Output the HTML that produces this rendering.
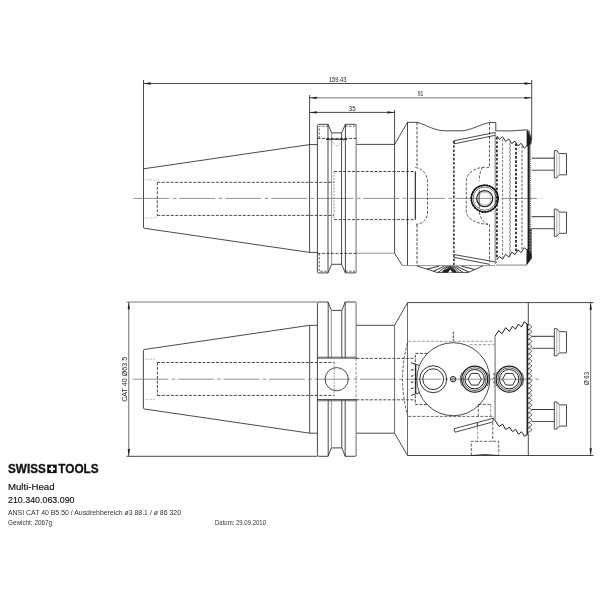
<!DOCTYPE html>
<html><head><meta charset="utf-8"><title>Multi-Head 210.340.063.090</title>
<style>
html,body{margin:0;padding:0;background:#fff;}
body{width:600px;height:600px;overflow:hidden;position:relative;font-family:"Liberation Sans",sans-serif;}
svg{position:absolute;left:0;top:0;display:block;}
svg text{font-family:"Liberation Sans",sans-serif;}
svg{opacity:0.999;will-change:transform;}
.t{position:absolute;left:8px;white-space:nowrap;color:#111;line-height:1;transform-origin:0 0;}
</style></head><body>
<svg width="600" height="600" viewBox="0 0 600 600">
<rect width="600" height="600" fill="#fff"/>
<line x1="143.5" y1="83.5" x2="531.7" y2="83.5" stroke="#1c1c1c" stroke-width="0.8"/>
<polygon points="143.5,83.5 150.7,82.35 150.7,84.65" fill="#1c1c1c"/>
<polygon points="531.7,83.5 524.5,84.65 524.5,82.35" fill="#1c1c1c"/>
<text x="337.7" y="82" font-size="6.7" text-anchor="middle" fill="#1c1c1c" font-weight="normal" textLength="17.6" lengthAdjust="spacingAndGlyphs">159.43</text>
<line x1="309.6" y1="97.8" x2="531.7" y2="97.8" stroke="#555" stroke-width="0.8"/>
<polygon points="309.6,97.8 316.8,96.64999999999999 316.8,98.95" fill="#1c1c1c"/>
<polygon points="531.7,97.8 524.5,98.95 524.5,96.64999999999999" fill="#1c1c1c"/>
<text x="420.5" y="95.9" font-size="6.7" text-anchor="middle" fill="#1c1c1c" font-weight="normal" textLength="5.6" lengthAdjust="spacingAndGlyphs">91</text>
<line x1="309.6" y1="112.4" x2="394.6" y2="112.4" stroke="#1c1c1c" stroke-width="0.8"/>
<polygon points="309.6,112.4 316.8,111.25 316.8,113.55000000000001" fill="#1c1c1c"/>
<polygon points="394.6,112.4 387.40000000000003,113.55000000000001 387.40000000000003,111.25" fill="#1c1c1c"/>
<text x="352.2" y="111" font-size="6.7" text-anchor="middle" fill="#1c1c1c" font-weight="normal" textLength="6.7" lengthAdjust="spacingAndGlyphs">35</text>
<line x1="143.5" y1="80" x2="143.5" y2="227.2" stroke="#1c1c1c" stroke-width="0.8"/>
<line x1="531.7" y1="80" x2="531.7" y2="140" stroke="#1c1c1c" stroke-width="0.8"/>
<line x1="309.6" y1="95" x2="309.6" y2="252.4" stroke="#1c1c1c" stroke-width="0.8"/>
<line x1="394.6" y1="110" x2="394.6" y2="253.2" stroke="#1c1c1c" stroke-width="0.8"/>
<path d="M143.5,168.8 L309.6,144.6 L317.4,144.6" stroke="#1c1c1c" stroke-width="0.8" fill="none"/>
<path d="M143.5,227.2 Q143.5,228.2 144.6,228.3 L309.6,252.4 L317.4,252.4" stroke="#1c1c1c" stroke-width="0.8" fill="none"/>
<line x1="133.3" y1="198.4" x2="541.5" y2="198.4" stroke="#7a7a7a" stroke-width="0.8" stroke-dasharray="36 3.4 3.8 2.8"/>
<path d="M157.3,182.3 L334,182.3 M157.3,215.4 L334,215.4 M157.3,182.3 L157.3,215.4" stroke="#1c1c1c" stroke-width="0.8" fill="none" stroke-dasharray="3 1.5"/>
<path d="M145,179.8 L154.5,179.8 Q156.8,179.8 156.8,182 M145,218 L154.5,218 Q156.8,218 156.8,215.6" stroke="#7a7a7a" stroke-width="0.6" fill="none" stroke-dasharray="1.5 1.2"/>
<path d="M356.4,125.8 Q356.4,124.3 354.9,124.3 L345.4,124.3 L341.6,132.9 L331.6,132.9 L328,124.3 L318.9,124.3 Q317.4,124.3 317.4,125.8 L317.4,271.4 Q317.4,272.9 318.9,272.9 L328,272.9 L331.6,264.29999999999995 L341.6,264.29999999999995 L345.4,272.9 L354.9,272.9 Q356.4,272.9 356.4,271.4" stroke="#1c1c1c" stroke-width="0.8" fill="none"/>
<line x1="356.09999999999997" y1="125.8" x2="356.09999999999997" y2="271.4" stroke="#8c8c8c" stroke-width="1.3"/>
<line x1="328" y1="124.3" x2="328" y2="272.9" stroke="#1c1c1c" stroke-width="0.8"/>
<line x1="331.6" y1="133" x2="331.6" y2="264.4" stroke="#7a7a7a" stroke-width="0.8"/>
<line x1="341.6" y1="133" x2="341.6" y2="264.4" stroke="#1c1c1c" stroke-width="0.8"/>
<line x1="345.4" y1="124.3" x2="345.4" y2="272.9" stroke="#1c1c1c" stroke-width="0.8"/>
<line x1="317.4" y1="138.4" x2="356.4" y2="138.4" stroke="#1c1c1c" stroke-width="0.8" stroke-dasharray="3 1.5"/>
<line x1="317.4" y1="253.4" x2="356.4" y2="253.4" stroke="#1c1c1c" stroke-width="0.8" stroke-dasharray="3 1.5"/>
<path d="M319.2,138.4 L319.2,126.2 L328,126.2 M345.4,126.2 L355,126.2" stroke="#1c1c1c" stroke-width="0.7" fill="none" stroke-dasharray="2.4 1.4"/>
<path d="M319.2,253.4 L319.2,271.2 L328,271.2 M345.4,271.2 L355,271.2" stroke="#1c1c1c" stroke-width="0.7" fill="none" stroke-dasharray="2.4 1.4"/>
<line x1="326" y1="139.3" x2="347" y2="139.3" stroke="#1c1c1c" stroke-width="1.0"/>
<path d="M329,139.5 L337,146 L345,139.5" stroke="#7a7a7a" stroke-width="0.6" fill="none" stroke-dasharray="2 1"/>
<line x1="356.4" y1="144.4" x2="394.6" y2="144.4" stroke="#1c1c1c" stroke-width="0.8"/>
<line x1="356.4" y1="253.2" x2="394.6" y2="253.2" stroke="#7a7a7a" stroke-width="0.8"/>
<path d="M334,171.5 L415.3,171.5 M334,219.6 L415.3,219.6" stroke="#1c1c1c" stroke-width="0.8" fill="none" stroke-dasharray="3 1.5"/>
<line x1="334" y1="171.5" x2="334" y2="219.6" stroke="#7a7a7a" stroke-width="0.8" stroke-dasharray="2 1.2"/>
<path d="M394.6,144.4 L407.5,122.3 L417,122.3 C427,125 434,130.8 445,130.8 L461,130.8 C470,130.8 480,124.5 489.5,122.5 L495.8,122.5 L495.8,131" stroke="#1c1c1c" stroke-width="0.8" fill="none"/>
<line x1="407.5" y1="122.3" x2="407.5" y2="265.6" stroke="#1c1c1c" stroke-width="0.8"/>
<line x1="417" y1="122.3" x2="417" y2="167" stroke="#1c1c1c" stroke-width="0.8" stroke-dasharray="3 1.5"/>
<line x1="417" y1="224.5" x2="417" y2="265.6" stroke="#1c1c1c" stroke-width="0.8" stroke-dasharray="3 1.5"/>
<line x1="415.3" y1="171.5" x2="415.3" y2="219.6" stroke="#1c1c1c" stroke-width="1.1"/>
<path d="M415.3,167.5 C422,168 427.5,174 427.5,182 L427.5,213 C427.5,220 422,224 416,224.3" stroke="#1c1c1c" stroke-width="0.7" fill="none" stroke-dasharray="3 1.5"/>
<path d="M394.6,253.2 L402.5,265.6" stroke="#1c1c1c" stroke-width="0.8" fill="none"/>
<line x1="453.9" y1="141" x2="453.9" y2="265" stroke="#1c1c1c" stroke-width="1.4" stroke-dasharray="2.6 1.6"/>
<path d="M453.8,140.8 L495.8,132.3 M454.5,143.8 L495.8,135.2 M453.8,140.8 L454.5,143.8" stroke="#1c1c1c" stroke-width="0.8" fill="none"/>
<path d="M453.8,254.5 L497,262.2 M453.8,257.3 L490,264.4" stroke="#1c1c1c" stroke-width="0.8" fill="none"/>
<line x1="489.5" y1="122.5" x2="489.5" y2="167.3" stroke="#1c1c1c" stroke-width="0.7" stroke-dasharray="3 1.5"/>
<line x1="489.5" y1="224.4" x2="489.5" y2="262" stroke="#1c1c1c" stroke-width="0.7" stroke-dasharray="3 1.5"/>
<path d="M495.8,130.8 Q512,131.5 527,129.8 L529,131 L531.2,139" stroke="#1c1c1c" stroke-width="0.8" fill="none"/>
<path d="M496.7,135.8 L499.4,139.3 L502.6,136.7 L505.6,141.5 L508.8,138.9 L511.8,143.7 L515.0,141.1 L518.0,145.9 L521.2,143.3 L524.2,148.1 L527.0,145.9" stroke="#1c1c1c" stroke-width="0.9" fill="none"/>
<path d="M496.7,260.0 L499.4,256.5 L502.6,259.1 L505.6,254.3 L508.8,256.9 L511.8,252.1 L515.0,254.7 L518.0,249.9 L521.2,252.5 L524.2,247.7 L527.0,249.9" stroke="#1c1c1c" stroke-width="0.9" fill="none"/>
<line x1="495.2" y1="132.5" x2="495.2" y2="264" stroke="#8a8a8a" stroke-width="1.2"/>
<line x1="496.9" y1="137" x2="496.9" y2="259" stroke="#1c1c1c" stroke-width="1.6" stroke-dasharray="2.6 1.6"/>
<line x1="502.6" y1="139" x2="502.6" y2="257.5" stroke="#777" stroke-width="1.0" stroke-dasharray="2.6 1.6"/>
<path d="M510,141.5 q0.7,1 0,2 q-0.7,1 0,2 q0.7,1 0,2 q-0.7,1 0,2 q0.7,1 0,2 q-0.7,1 0,2 q0.7,1 0,2 q-0.7,1 0,2 q0.7,1 0,2 q-0.7,1 0,2 q0.7,1 0,2 q-0.7,1 0,2 q0.7,1 0,2 q-0.7,1 0,2 q0.7,1 0,2 q-0.7,1 0,2 q0.7,1 0,2 q-0.7,1 0,2 q0.7,1 0,2 q-0.7,1 0,2 q0.7,1 0,2 q-0.7,1 0,2 q0.7,1 0,2 q-0.7,1 0,2 q0.7,1 0,2 q-0.7,1 0,2 q0.7,1 0,2 q-0.7,1 0,2 q0.7,1 0,2 q-0.7,1 0,2 q0.7,1 0,2 q-0.7,1 0,2 q0.7,1 0,2 q-0.7,1 0,2 q0.7,1 0,2 q-0.7,1 0,2 q0.7,1 0,2 q-0.7,1 0,2 q0.7,1 0,2 q-0.7,1 0,2 q0.7,1 0,2 q-0.7,1 0,2 q0.7,1 0,2 q-0.7,1 0,2 q0.7,1 0,2 q-0.7,1 0,2 q0.7,1 0,2 q-0.7,1 0,2 q0.7,1 0,2 q-0.7,1 0,2 q0.7,1 0,2 q-0.7,1 0,2 q0.7,1 0,2 q-0.7,1 0,2 q0.7,1 0,2 q-0.7,1 0,2 q0.7,1 0,2 q-0.7,1 0,2" stroke="#333" stroke-width="0.7" fill="none"/>
<line x1="516" y1="143.5" x2="516" y2="253" stroke="#1c1c1c" stroke-width="1.7" stroke-dasharray="2.6 1.6"/>
<line x1="522" y1="146" x2="522" y2="251" stroke="#666" stroke-width="1.1" stroke-dasharray="2.6 1.6"/>
<polygon points="526.6,130.6 527.8,130.6 531.6,139.5 531.6,143 528.2,146.5 526.6,146" fill="#1c1c1c"/>
<rect x="527.6" y="140" width="2.1" height="118" fill="#1c1c1c"/>
<line x1="530.6" y1="142" x2="530.6" y2="228" stroke="#555" stroke-width="0.9" stroke-dasharray="1.2 0.9"/>
<rect x="529.2" y="228" width="2.4" height="30" fill="#333"/>
<line x1="530.2" y1="228" x2="530.2" y2="258" stroke="#ccc" stroke-width="0.7" stroke-dasharray="1.5 1.5"/>
<polygon points="526.6,250 527.8,249 531.6,254 531.6,258.5 526.8,265.3 526.4,265.3" fill="#1c1c1c"/>
<line x1="496" y1="265.1" x2="526.6" y2="265.1" stroke="#999" stroke-width="1.2"/>
<line x1="402.5" y1="265.6" x2="495" y2="265.6" stroke="#7a7a7a" stroke-width="0.8"/>
<path d="M416.7,265.8 L437,272.4 L468.5,272.4 L483,265.8" stroke="#1c1c1c" stroke-width="0.8" fill="none"/>
<line x1="461.3" y1="266.2" x2="474.8" y2="269.5" stroke="#1c1c1c" stroke-width="0.9"/>
<line x1="456.3" y1="266.2" x2="469.1" y2="272.1" stroke="#1c1c1c" stroke-width="0.9"/>
<line x1="454.2" y1="266.2" x2="462.6" y2="272.2" stroke="#1c1c1c" stroke-width="0.9"/>
<line x1="453.0" y1="266.2" x2="458.7" y2="272.2" stroke="#1c1c1c" stroke-width="0.9"/>
<line x1="452.2" y1="266.2" x2="456.0" y2="272.2" stroke="#1c1c1c" stroke-width="0.9"/>
<line x1="451.6" y1="266.2" x2="453.9" y2="272.2" stroke="#1c1c1c" stroke-width="0.9"/>
<line x1="451.0" y1="266.2" x2="452.1" y2="272.2" stroke="#1c1c1c" stroke-width="0.9"/>
<line x1="450.5" y1="266.2" x2="450.5" y2="272.2" stroke="#1c1c1c" stroke-width="0.9"/>
<line x1="450.0" y1="266.2" x2="448.8" y2="272.2" stroke="#1c1c1c" stroke-width="0.9"/>
<line x1="449.4" y1="266.2" x2="447.0" y2="272.2" stroke="#1c1c1c" stroke-width="0.9"/>
<line x1="448.7" y1="266.2" x2="444.9" y2="272.2" stroke="#1c1c1c" stroke-width="0.9"/>
<line x1="447.9" y1="266.2" x2="442.1" y2="272.2" stroke="#1c1c1c" stroke-width="0.9"/>
<line x1="446.7" y1="266.2" x2="438.2" y2="272.2" stroke="#1c1c1c" stroke-width="0.9"/>
<line x1="444.5" y1="266.2" x2="433.4" y2="271.2" stroke="#1c1c1c" stroke-width="0.9"/>
<line x1="439.2" y1="266.2" x2="426.9" y2="269.1" stroke="#1c1c1c" stroke-width="0.9"/>
<polygon points="444,270 450,268 455,270 457,272.4 442,272.4" fill="#222"/>
<polygon points="448,272.4 450.3,269.5 452.6,272.4" fill="#fff"/>
<circle cx="484.7" cy="198.6" r="13.4" stroke="#333" stroke-width="1.5" fill="none"/>
<circle cx="484.7" cy="198.6" r="13.4" stroke="#000" stroke-width="1.5" fill="none" stroke-dasharray="1.6 1.2"/>
<circle cx="484.7" cy="198.6" r="11.6" stroke="#1c1c1c" stroke-width="0.6" fill="none"/>
<circle cx="484.7" cy="198.6" r="8" stroke="#1c1c1c" stroke-width="1.2" fill="none"/>
<circle cx="484.7" cy="198.6" r="6.4" stroke="#7a7a7a" stroke-width="0.5" fill="none"/>
<path d="M489.3,167.3 L482.7,167.3 C473,168.5 466.3,174 466.3,181 L466.3,211 C466.3,218 474,223.5 488,224.4" stroke="#1c1c1c" stroke-width="0.7" fill="none" stroke-dasharray="3 1.5"/>
<path d="M482.7,167.3 C480.5,170 479.3,175 479.3,181 M479.3,212 C480,218 483,222 488,224.4" stroke="#1c1c1c" stroke-width="0.7" fill="none" stroke-dasharray="3 1.5"/>
<line x1="479.3" y1="190" x2="479.3" y2="208" stroke="#1c1c1c" stroke-width="0.6"/>
<line x1="531.7" y1="158.2" x2="554.3" y2="158.2" stroke="#1c1c1c" stroke-width="0.9"/>
<line x1="531.7" y1="170.2" x2="554.3" y2="170.2" stroke="#3a3a3a" stroke-width="0.9"/>
<path d="M554.3,150.6 L556.8,150.6 L559.3,153.6 L566.5,153.6 L566.5,174.79999999999998 L559.3,174.79999999999998 L556.8,177.79999999999998 L554.3,177.79999999999998 Z" stroke="#1c1c1c" stroke-width="0.8" fill="none"/>
<line x1="556.8" y1="150.6" x2="556.8" y2="177.79999999999998" stroke="#7a7a7a" stroke-width="0.6"/>
<line x1="559.3" y1="153.6" x2="559.3" y2="174.79999999999998" stroke="#7a7a7a" stroke-width="0.6"/>
<line x1="531.7" y1="216.7" x2="554.3" y2="216.7" stroke="#1c1c1c" stroke-width="0.9"/>
<line x1="531.7" y1="228.7" x2="554.3" y2="228.7" stroke="#3a3a3a" stroke-width="0.9"/>
<path d="M554.3,209.1 L556.8,209.1 L559.3,212.1 L566.5,212.1 L566.5,233.29999999999998 L559.3,233.29999999999998 L556.8,236.29999999999998 L554.3,236.29999999999998 Z" stroke="#1c1c1c" stroke-width="0.8" fill="none"/>
<line x1="556.8" y1="209.1" x2="556.8" y2="236.29999999999998" stroke="#7a7a7a" stroke-width="0.6"/>
<line x1="559.3" y1="212.1" x2="559.3" y2="233.29999999999998" stroke="#7a7a7a" stroke-width="0.6"/>
<line x1="128.8" y1="302" x2="128.8" y2="456.3" stroke="#444" stroke-width="0.8"/>
<polygon points="128.8,302 129.95000000000002,309.2 127.65,309.2" fill="#1c1c1c"/>
<polygon points="128.8,456.3 127.65,449.1 129.95000000000002,449.1" fill="#1c1c1c"/>
<line x1="126.5" y1="302" x2="317.4" y2="302" stroke="#555" stroke-width="0.8"/>
<line x1="126.5" y1="456.3" x2="317.4" y2="456.3" stroke="#1c1c1c" stroke-width="0.8"/>
<text transform="translate(127,379.3) rotate(-90)" font-size="6.8" text-anchor="middle" fill="#1c1c1c" textLength="45" lengthAdjust="spacingAndGlyphs">CAT 40 Ø63.5</text>
<path d="M143.4,408 L143.4,350.4 Q143.4,349.6 144.4,349.5 L309.7,325.3 L317.4,325.3" stroke="#1c1c1c" stroke-width="0.8" fill="none"/>
<path d="M143.4,408 Q143.4,408.8 144.4,409 L309.7,433.2 L317.4,433.2" stroke="#1c1c1c" stroke-width="0.8" fill="none"/>
<line x1="309.7" y1="325.3" x2="309.7" y2="433.2" stroke="#1c1c1c" stroke-width="0.8"/>
<line x1="132.5" y1="379.2" x2="539" y2="379.2" stroke="#7a7a7a" stroke-width="0.8" stroke-dasharray="36 3 3.8 2.7"/>
<path d="M157.4,362.5 L334.2,362.5 M157.4,395.4 L334.2,395.4 M157.4,362.5 L157.4,395.4" stroke="#1c1c1c" stroke-width="0.8" fill="none" stroke-dasharray="3 1.5"/>
<path d="M145,359.2 L155.5,359.2 M145,399.3 L155.5,399.3" stroke="#7a7a7a" stroke-width="0.6" fill="none" stroke-dasharray="1.5 1.2"/>
<path d="M356.4,303.5 Q356.4,302 354.9,302 L345.2,302 L341.8,310.4 L331.4,310.4 L328,302 L318.9,302 Q317.4,302 317.4,303.5 L317.4,454.8 Q317.4,456.3 318.9,456.3 L328,456.3 L331.4,447.90000000000003 L341.8,447.90000000000003 L345.2,456.3 L354.9,456.3 Q356.4,456.3 356.4,454.8" stroke="#1c1c1c" stroke-width="0.8" fill="none"/>
<line x1="356.09999999999997" y1="303.5" x2="356.09999999999997" y2="358" stroke="#8c8c8c" stroke-width="1.3"/>
<line x1="356.09999999999997" y1="400" x2="356.09999999999997" y2="454.8" stroke="#8c8c8c" stroke-width="1.3"/>
<line x1="356.09999999999997" y1="358" x2="356.09999999999997" y2="400" stroke="#8c8c8c" stroke-width="1.0" stroke-dasharray="3 1.5"/>
<line x1="328.2" y1="302" x2="328.2" y2="358" stroke="#1c1c1c" stroke-width="0.8"/>
<line x1="328.2" y1="399.8" x2="328.2" y2="456.3" stroke="#1c1c1c" stroke-width="0.8"/>
<line x1="331.4" y1="310.4" x2="331.4" y2="358" stroke="#7a7a7a" stroke-width="0.8"/>
<line x1="331.4" y1="399.8" x2="331.4" y2="447.9" stroke="#7a7a7a" stroke-width="0.8"/>
<line x1="341.8" y1="310.4" x2="341.8" y2="358" stroke="#1c1c1c" stroke-width="0.8"/>
<line x1="341.8" y1="399.8" x2="341.8" y2="447.9" stroke="#1c1c1c" stroke-width="0.8"/>
<line x1="345.2" y1="302" x2="345.2" y2="358" stroke="#1c1c1c" stroke-width="0.8"/>
<line x1="345.2" y1="399.8" x2="345.2" y2="456.3" stroke="#1c1c1c" stroke-width="0.8"/>
<line x1="317.4" y1="358" x2="356.4" y2="358" stroke="#1c1c1c" stroke-width="1.2"/>
<line x1="317.4" y1="399.9" x2="356.4" y2="399.9" stroke="#1c1c1c" stroke-width="1.2"/>
<line x1="318" y1="356.8" x2="356" y2="356.8" stroke="#7a7a7a" stroke-width="0.6"/>
<line x1="318" y1="401" x2="356" y2="401" stroke="#7a7a7a" stroke-width="0.6"/>
<circle cx="336.7" cy="379.2" r="11.6" stroke="#1c1c1c" stroke-width="0.8" fill="none"/>
<line x1="334.2" y1="362.5" x2="334.2" y2="395.4" stroke="#7a7a7a" stroke-width="0.8" stroke-dasharray="2 1.2"/>
<line x1="356.4" y1="358.4" x2="415.3" y2="358.4" stroke="#1c1c1c" stroke-width="0.8" stroke-dasharray="3 1.5"/>
<line x1="356.4" y1="399.8" x2="415.3" y2="399.8" stroke="#1c1c1c" stroke-width="0.8" stroke-dasharray="3 1.5"/>
<line x1="356.4" y1="325.3" x2="394.6" y2="325.3" stroke="#1c1c1c" stroke-width="0.8"/>
<line x1="356.4" y1="433.2" x2="394.6" y2="433.2" stroke="#1c1c1c" stroke-width="0.8"/>
<line x1="394.6" y1="325.3" x2="394.6" y2="433.2" stroke="#444" stroke-width="0.8"/>
<path d="M394.6,325.3 L407.5,302.6 L593.5,302.6" stroke="#1c1c1c" stroke-width="0.8" fill="none"/>
<path d="M394.6,433.2 L407.5,455.5 L593.5,455.5" stroke="#1c1c1c" stroke-width="0.8" fill="none"/>
<line x1="407.5" y1="302.6" x2="407.5" y2="455.5" stroke="#484848" stroke-width="0.8"/>
<line x1="528.3" y1="302.6" x2="528.3" y2="324.5" stroke="#1c1c1c" stroke-width="0.8"/>
<line x1="528.3" y1="434" x2="528.3" y2="455.5" stroke="#1c1c1c" stroke-width="0.8"/>
<line x1="590.7" y1="302.6" x2="590.7" y2="455.5" stroke="#444" stroke-width="0.8"/>
<polygon points="590.7,302.6 591.85,309.8 589.5500000000001,309.8" fill="#1c1c1c"/>
<polygon points="590.7,455.5 589.5500000000001,448.3 591.85,448.3" fill="#1c1c1c"/>
<text transform="translate(589,378.5) rotate(-90)" font-size="6.6" text-anchor="middle" fill="#1c1c1c" textLength="13" lengthAdjust="spacingAndGlyphs">Ø 63</text>
<circle cx="453.3" cy="379.2" r="36.5" stroke="#1c1c1c" stroke-width="0.8" fill="none"/>
<line x1="453.3" y1="331.7" x2="453.3" y2="342.5" stroke="#1c1c1c" stroke-width="0.9" stroke-dasharray="2.5 1.2"/>
<line x1="408.3" y1="341.3" x2="494" y2="341.3" stroke="#b0b0b0" stroke-width="1.2" stroke-dasharray="3 1.5"/>
<line x1="469.7" y1="344.7" x2="494.5" y2="344.7" stroke="#999" stroke-width="1.0" stroke-dasharray="3 1.5"/>
<line x1="408.3" y1="416.4" x2="494" y2="416.4" stroke="#444" stroke-width="0.8" stroke-dasharray="3 1.5"/>
<path d="M427.5,353.4 L415.3,353.4 L415.3,404.6 L427,404.6" stroke="#1c1c1c" stroke-width="0.8" fill="none" stroke-dasharray="3 1.5"/>
<path d="M407.5,343 Q397.6,379 407.5,415" stroke="#1c1c1c" stroke-width="0.7" fill="none" stroke-dasharray="3 1.5"/>
<line x1="415.7" y1="365.3" x2="415.7" y2="393.3" stroke="#1c1c1c" stroke-width="1.2"/>
<line x1="411" y1="370.1" x2="413.4" y2="369.5" stroke="#1c1c1c" stroke-width="1.0"/>
<line x1="411" y1="376.3" x2="413.4" y2="375.7" stroke="#1c1c1c" stroke-width="1.0"/>
<line x1="411" y1="382.5" x2="413.4" y2="381.9" stroke="#1c1c1c" stroke-width="1.0"/>
<line x1="411" y1="388.7" x2="413.4" y2="388.09999999999997" stroke="#1c1c1c" stroke-width="1.0"/>
<line x1="411" y1="362.7" x2="419" y2="365.4" stroke="#1c1c1c" stroke-width="0.9"/>
<line x1="411" y1="395.4" x2="419.7" y2="392.6" stroke="#1c1c1c" stroke-width="0.9"/>
<circle cx="433.2" cy="379.2" r="13.5" stroke="#1c1c1c" stroke-width="0.9" fill="none"/>
<circle cx="433.2" cy="379.2" r="10.4" stroke="#1c1c1c" stroke-width="0.9" fill="none"/>
<circle cx="453.1" cy="379.2" r="2.7" stroke="#1c1c1c" stroke-width="1.0" fill="none"/>
<circle cx="453.1" cy="379.2" r="1.2" stroke="#555" stroke-width="0.7" fill="none"/>
<circle cx="474.7" cy="379.2" r="13.0" stroke="#1c1c1c" stroke-width="1.2" fill="none"/>
<circle cx="474.7" cy="379.2" r="11.4" stroke="#1c1c1c" stroke-width="0.7" fill="none"/>
<circle cx="474.7" cy="379.2" r="9.7" stroke="#1c1c1c" stroke-width="1.0" fill="none"/>
<polygon points="481.45,379.20 478.07,385.05 471.32,385.05 467.95,379.20 471.32,373.35 478.07,373.35" stroke="#1c1c1c" stroke-width="0.9" fill="none"/>
<path d="M462.07,372.49 A14.3,14.3 0 0 0 462.07,385.91" stroke="#1c1c1c" stroke-width="0.7" fill="none"/>
<path d="M487.33,372.49 A14.3,14.3 0 0 1 487.33,385.91" stroke="#1c1c1c" stroke-width="0.7" fill="none"/>
<circle cx="509.2" cy="379.2" r="13.0" stroke="#1c1c1c" stroke-width="1.2" fill="none"/>
<circle cx="509.2" cy="379.2" r="11.4" stroke="#1c1c1c" stroke-width="0.7" fill="none"/>
<circle cx="509.2" cy="379.2" r="9.7" stroke="#1c1c1c" stroke-width="1.0" fill="none"/>
<polygon points="515.95,379.20 512.58,385.05 505.82,385.05 502.45,379.20 505.82,373.35 512.58,373.35" stroke="#1c1c1c" stroke-width="0.9" fill="none"/>
<path d="M496.57,372.49 A14.3,14.3 0 0 0 496.57,385.91" stroke="#1c1c1c" stroke-width="0.7" fill="none"/>
<path d="M521.83,372.49 A14.3,14.3 0 0 1 521.83,385.91" stroke="#1c1c1c" stroke-width="0.7" fill="none"/>
<line x1="495.1" y1="336.4" x2="495.1" y2="419.7" stroke="#909090" stroke-width="1.4"/>
<line x1="493.9" y1="373" x2="493.9" y2="385.5" stroke="#1c1c1c" stroke-width="0.7" stroke-dasharray="2.5 1.5"/>
<path d="M494.9,336.4 L498.7,330.7 L502,333.7 L505.7,327.7 L509.5,331.5 L512.5,326.2 L515.5,329.2 L518.5,324 L521.5,327 L524.2,321.7 L527.5,324.2" stroke="#1c1c1c" stroke-width="1.0" fill="none"/>
<path d="M494.6,419.7 L499,426.5 L502.7,424.2 L505.7,429.5 L509.5,427.2 L512.5,431.7 L515.5,429.2 L518.5,434.3 L521.5,431.7 L524.5,436.2 L527.5,434.6" stroke="#1c1c1c" stroke-width="1.0" fill="none"/>
<line x1="527.4" y1="324" x2="527.4" y2="434.6" stroke="#1c1c1c" stroke-width="1.7"/>
<path d="M528,324.8 C531,324.8 533,327.0 530.6,328.0 L528.2,329.7 C531,329.7 533,331.9 530.6,332.9 L528.2,334.6 C531,334.6 533,336.8 530.6,337.8 L528.2,339.5 C531,339.5 533,341.7 530.6,342.7 L528.2,344.4 C531,344.4 533,346.6 530.6,347.6 L528.2,349.3 C531,349.3 533,351.5 530.6,352.5 L528.2,354.2 C531,354.2 533,356.4 530.6,357.4 L528.2,359.1 C531,359.1 533,361.3 530.6,362.3 L528.2,364.0 C531,364.0 533,366.2 530.6,367.2 L528.2,368.9 C531,368.9 533,371.1 530.6,372.1 L528.2,373.8 C531,373.8 533,376.0 530.6,377.0 L528.2,378.7 C531,378.7 533,380.9 530.6,381.9 L528.2,383.6 C531,383.6 533,385.8 530.6,386.8 L528.2,388.5 C531,388.5 533,390.7 530.6,391.7 L528.2,393.4 C531,393.4 533,395.6 530.6,396.6 L528.2,398.3 C531,398.3 533,400.5 530.6,401.5 L528.2,403.2 C531,403.2 533,405.4 530.6,406.4 L528.2,408.1 C531,408.1 533,410.3 530.6,411.3 L528.2,413.0 C531,413.0 533,415.2 530.6,416.2 L528.2,417.9 C531,417.9 533,420.1 530.6,421.1 L528.2,422.8 C531,422.8 533,425.0 530.6,426.0 L528.2,427.7 C531,427.7 533,429.9 530.6,430.9 L528.2,432.6" stroke="#1c1c1c" stroke-width="0.7" fill="none"/>
<path d="M454,428.7 L493.7,418.2 L492.7,422 L455.2,432.2 Z" stroke="#1c1c1c" stroke-width="0.8" fill="none"/>
<line x1="477.3" y1="423" x2="477.3" y2="426" stroke="#1c1c1c" stroke-width="1.0"/>
<path d="M478.3,404.4 L490.7,404.4 M478.3,404.4 L478.3,416.4" stroke="#1c1c1c" stroke-width="0.7" fill="none" stroke-dasharray="3 1.5"/>
<line x1="490.7" y1="404.4" x2="490.7" y2="416.4" stroke="#7a7a7a" stroke-width="0.8" stroke-dasharray="3 1.5"/>
<line x1="477.7" y1="427" x2="477.7" y2="441.3" stroke="#7a7a7a" stroke-width="0.8" stroke-dasharray="3 1.5"/>
<line x1="492.7" y1="422.5" x2="492.7" y2="441.3" stroke="#1c1c1c" stroke-width="0.7" stroke-dasharray="3 1.5"/>
<path d="M471.3,455.5 L471.3,441.3 L498.7,441.3 L498.7,455.5" stroke="#1c1c1c" stroke-width="0.7" fill="none" stroke-dasharray="3 1.5"/>
<path d="M471.3,455.5 Q485,453.5 498.7,455.5" stroke="#1c1c1c" stroke-width="0.8" fill="none"/>
<line x1="531.7" y1="336.3" x2="554.3" y2="336.3" stroke="#1c1c1c" stroke-width="0.9"/>
<line x1="531.7" y1="348.3" x2="554.3" y2="348.3" stroke="#3a3a3a" stroke-width="0.9"/>
<path d="M554.3,328.7 L556.8,328.7 L559.3,331.7 L566.5,331.7 L566.5,352.90000000000003 L559.3,352.90000000000003 L556.8,355.90000000000003 L554.3,355.90000000000003 Z" stroke="#1c1c1c" stroke-width="0.8" fill="none"/>
<line x1="556.8" y1="328.7" x2="556.8" y2="355.90000000000003" stroke="#7a7a7a" stroke-width="0.6"/>
<line x1="559.3" y1="331.7" x2="559.3" y2="352.90000000000003" stroke="#7a7a7a" stroke-width="0.6"/>
<line x1="531.7" y1="409.5" x2="554.3" y2="409.5" stroke="#1c1c1c" stroke-width="0.9"/>
<line x1="531.7" y1="421.5" x2="554.3" y2="421.5" stroke="#3a3a3a" stroke-width="0.9"/>
<path d="M554.3,401.9 L556.8,401.9 L559.3,404.9 L566.5,404.9 L566.5,426.1 L559.3,426.1 L556.8,429.1 L554.3,429.1 Z" stroke="#1c1c1c" stroke-width="0.8" fill="none"/>
<line x1="556.8" y1="401.9" x2="556.8" y2="429.1" stroke="#7a7a7a" stroke-width="0.6"/>
<line x1="559.3" y1="404.9" x2="559.3" y2="426.1" stroke="#7a7a7a" stroke-width="0.6"/>
<g fill="#111">
<text x="8" y="473.2" font-size="12" font-weight="bold" textLength="37.8" lengthAdjust="spacingAndGlyphs" stroke="#111" stroke-width="0.3">SWISS</text>
<rect x="47.2" y="464.6" width="9.5" height="8.5" fill="#111"/>
<rect x="50.85" y="465.9" width="2.2" height="5.9" fill="#fff"/>
<rect x="49" y="467.75" width="5.9" height="2.2" fill="#fff"/>
<text x="58.3" y="473.2" font-size="12" font-weight="bold" textLength="40.4" lengthAdjust="spacingAndGlyphs" stroke="#111" stroke-width="0.3">TOOLS</text>
<text x="8" y="490" font-size="9.2" stroke="#111" stroke-width="0.15" textLength="46.5" lengthAdjust="spacingAndGlyphs">Multi-Head</text>
<text x="8" y="503" font-size="9.6" stroke="#111" stroke-width="0.15" textLength="66.5" lengthAdjust="spacingAndGlyphs">210.340.063.090</text>
<text x="8" y="514.6" font-size="6.9" textLength="173" lengthAdjust="spacingAndGlyphs" fill="#333">ANSI CAT 40 B5.50 / Ausdrehbereich ø3 88.1 / ø 86 320</text>
<text x="8" y="524.8" font-size="6.9" textLength="44" lengthAdjust="spacingAndGlyphs" fill="#333">Gewicht: 2067g</text>
<text x="215" y="524.8" font-size="6.9" textLength="51" lengthAdjust="spacingAndGlyphs" fill="#333">Datum: 29.09.2010</text>
</g>
</svg>
</body></html>
